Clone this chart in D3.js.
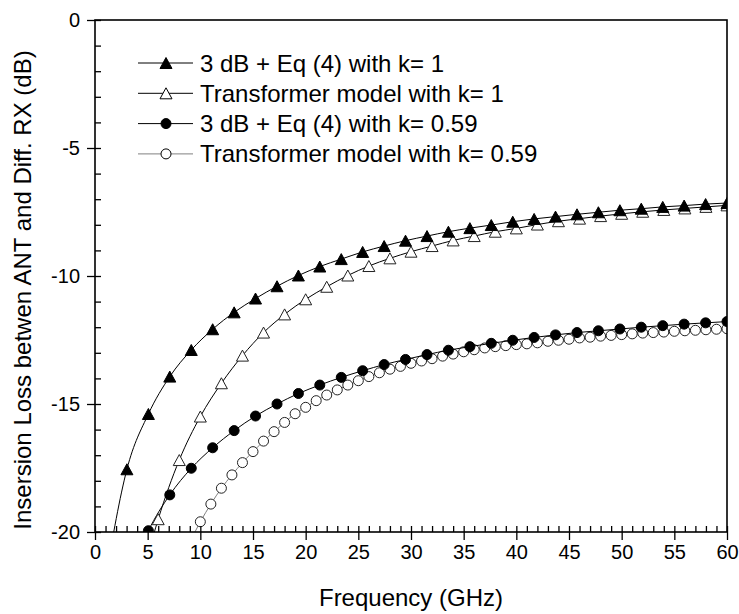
<!DOCTYPE html>
<html>
<head>
<meta charset="utf-8">
<script src="https://cdn.jsdelivr.net/npm/d3@7/dist/d3.min.js"></script>
<style>
  body { margin: 0; background: #fff; }
  svg { display: block; font-family: "Liberation Sans", Arial, sans-serif; }
</style>
</head>
<body>
<svg id="chart" width="739" height="614"></svg>
<script>
// frequency grid of the "3 dB + Eq (4)" curves (GHz)
const freqEq = [1, 3.03, 5.07, 7.10, 9.14, 11.17, 13.21, 15.24, 17.28, 19.31,
  21.34, 23.38, 25.41, 27.45, 29.48, 31.52, 33.55, 35.59, 37.62, 39.66,
  41.69, 43.72, 45.76, 47.79, 49.83, 51.86, 53.90, 55.93, 57.97, 60];

// 3 dB + Eq (4) with k = 1
const eqK1 = [-21.8, -17.55, -15.39, -13.93, -12.89, -12.08, -11.42, -10.88, -10.40, -9.98,
  -9.63, -9.34, -9.06, -8.83, -8.62, -8.44, -8.27, -8.13, -8.01, -7.88,
  -7.77, -7.68, -7.59, -7.51, -7.43, -7.37, -7.30, -7.25, -7.19, -7.15];

// 3 dB + Eq (4) with k = 0.59
const eqK059 = [-27.5, -22.0, -19.95, -18.55, -17.51, -16.71, -16.04, -15.47, -15.00, -14.59,
  -14.26, -13.96, -13.70, -13.46, -13.26, -13.07, -12.90, -12.76, -12.63, -12.51,
  -12.40, -12.30, -12.21, -12.14, -12.07, -12.00, -11.94, -11.88, -11.83, -11.78];

// transformer model with k = 1 (every 2 GHz)
const freqTrK1 = [4, 6, 8, 10, 12, 14, 16, 18, 20, 22, 24, 26, 28, 30, 32,
  34, 36, 38, 40, 42, 44, 46, 48, 50, 52, 54, 56, 58, 60];
const trK1 = [-22.5, -19.5, -17.19, -15.49, -14.19, -13.11, -12.21, -11.50, -10.91, -10.42,
  -9.98, -9.61, -9.31, -9.05, -8.83, -8.61, -8.44, -8.27, -8.14, -7.99,
  -7.86, -7.76, -7.66, -7.57, -7.49, -7.42, -7.36, -7.30, -7.24];

// transformer model with k = 0.59 (every 1 GHz)
const freqTrK059 = [9, 10, 11, 12, 13, 14, 15, 16, 17, 18, 19, 20, 21, 22, 23, 24,
  25, 26, 27, 28, 29, 30, 31, 32, 33, 34, 35, 36, 37, 38, 39, 40, 41, 42,
  43, 44, 45, 46, 47, 48, 49, 50, 51, 52, 53, 54, 55, 56, 57, 58, 59, 60];
const trK059 = [-20.4, -19.6, -18.91, -18.29, -17.77, -17.29, -16.86, -16.45, -16.08, -15.72,
  -15.38, -15.13, -14.87, -14.65, -14.45, -14.26, -14.09, -13.93, -13.78, -13.64,
  -13.53, -13.41, -13.32, -13.23, -13.13, -13.05, -12.96, -12.88, -12.81, -12.76,
  -12.72, -12.68, -12.65, -12.61, -12.55, -12.51, -12.47, -12.42, -12.39, -12.35,
  -12.32, -12.29, -12.26, -12.23, -12.21, -12.19, -12.16, -12.14, -12.12, -12.10,
  -12.08, -12.06];

const xMajor = [0, 5, 10, 15, 20, 25, 30, 35, 40, 45, 50, 55, 60];
const yMajor = [0, -5, -10, -15, -20];

const legendLabels = [
  '3 dB + Eq (4) with k= 1',
  'Transformer model with k= 1',
  '3 dB + Eq (4) with k= 0.59',
  'Transformer model with k= 0.59'
];

const svg = d3.select('#chart');
const plotLeft = 95, plotRight = 727, plotTop = 20, plotBottom = 532;

const x = d3.scaleLinear().domain([0, 60]).range([plotLeft, plotRight]);
const y = d3.scaleLinear().domain([-20, 0]).range([plotBottom, plotTop]);

svg.append('rect').attr('width', 739).attr('height', 614).attr('fill', '#fff');

svg.append('clipPath').attr('id', 'plot-clip')
  .append('rect')
  .attr('x', plotLeft).attr('y', plotTop)
  .attr('width', plotRight - plotLeft).attr('height', plotBottom - plotTop);

// marker shapes
const triPath = 'M0,-5.5L6,5.5L-6,5.5Z';
const circlePath = d3.symbol(d3.symbolCircle, Math.PI * 25)();

const series = [
  {fx: freqTrK059, fy: trK059, shape: 'circle', fill: '#fff', line: '#808080'},
  {fx: freqEq, fy: eqK059, shape: 'circle', fill: '#000', line: '#000'},
  {fx: freqTrK1, fy: trK1, shape: 'tri', fill: '#fff', line: '#000'},
  {fx: freqEq, fy: eqK1, shape: 'tri', fill: '#000', line: '#000'}
];

const plot = svg.append('g').attr('clip-path', 'url(#plot-clip)');

const line = d3.line()
  .x(d => x(d[0]))
  .y(d => y(d[1]))
  .curve(d3.curveMonotoneX);

series.forEach(s => {
  const pts = s.fx.map((f, i) => [f, s.fy[i]]);
  plot.append('path')
    .datum(pts)
    .attr('d', line)
    .attr('fill', 'none')
    .attr('stroke', s.line)
    .attr('stroke-width', 1);

  plot.append('g').selectAll('path')
    .data(pts)
    .join('path')
    .attr('transform', d => 'translate(' + x(d[0]) + ',' + y(d[1]) + ')')
    .attr('d', s.shape === 'tri' ? triPath : circlePath)
    .attr('fill', s.fill)
    .attr('stroke', s.fill === '#fff' ? '#222' : '#000')
    .attr('stroke-width', 1);
});

// axes: major ticks outward with labels, minor ticks inward
const plainNum = d => String(d);

svg.append('g')
  .attr('transform', 'translate(0,' + plotBottom + ')')
  .call(d3.axisBottom(x).tickValues(xMajor).tickFormat(plainNum)
    .tickSizeInner(8).tickSizeOuter(0).tickPadding(5));
svg.append('g')
  .attr('transform', 'translate(0,' + plotBottom + ')')
  .call(d3.axisBottom(x).tickValues(d3.range(0, 61, 1)).tickSizeInner(-6).tickSizeOuter(0).tickFormat(''));

svg.append('g')
  .attr('transform', 'translate(' + plotLeft + ',0)')
  .call(d3.axisLeft(y).tickValues(yMajor).tickFormat(plainNum)
    .tickSizeInner(8).tickSizeOuter(0).tickPadding(7));
svg.append('g')
  .attr('transform', 'translate(' + plotLeft + ',0)')
  .call(d3.axisLeft(y).tickValues(d3.range(-20, 1, 1)).tickSizeInner(-6).tickSizeOuter(0).tickFormat(''));

svg.selectAll('.domain').remove();
svg.selectAll('.tick line').attr('stroke', '#000').attr('stroke-width', 1.3);
svg.selectAll('.tick text')
  .attr('fill', '#000')
  .style('font-size', '20px')
  .style('font-family', '"Liberation Sans", Arial, sans-serif');

// frame
svg.append('rect')
  .attr('x', plotLeft).attr('y', plotTop)
  .attr('width', plotRight - plotLeft).attr('height', plotBottom - plotTop)
  .attr('fill', 'none')
  .attr('stroke', '#000')
  .attr('stroke-width', 1.6);

// axis titles
svg.append('text')
  .attr('x', (plotLeft + plotRight) / 2)
  .attr('y', 606)
  .attr('text-anchor', 'middle')
  .style('font-size', '24px')
  .text('Frequency (GHz)');

svg.append('text')
  .attr('transform', 'translate(31,290) rotate(-90)')
  .attr('text-anchor', 'middle')
  .style('font-size', '24px')
  .text('Insersion Loss betwen ANT and Diff. RX (dB)');

// legend
const legendRows = [
  {shape: 'tri', fill: '#000', line: '#000'},
  {shape: 'tri', fill: '#fff', line: '#000'},
  {shape: 'circle', fill: '#000', line: '#000'},
  {shape: 'circle', fill: '#fff', line: '#808080'}
];
const legend = svg.append('g');
legendRows.forEach((r, i) => {
  const cy = 63 + i * 30.3;
  legend.append('line')
    .attr('x1', 138).attr('x2', 193)
    .attr('y1', cy).attr('y2', cy)
    .attr('stroke', r.line).attr('stroke-width', 1);
  legend.append('path')
    .attr('transform', 'translate(166,' + cy + ')')
    .attr('d', r.shape === 'tri' ? triPath : circlePath)
    .attr('fill', r.fill)
    .attr('stroke', '#000');
  legend.append('text')
    .attr('x', 200)
    .attr('y', cy + 8.5)
    .style('font-size', '24px')
    .text(legendLabels[i]);
});
</script>
</body>
</html>
